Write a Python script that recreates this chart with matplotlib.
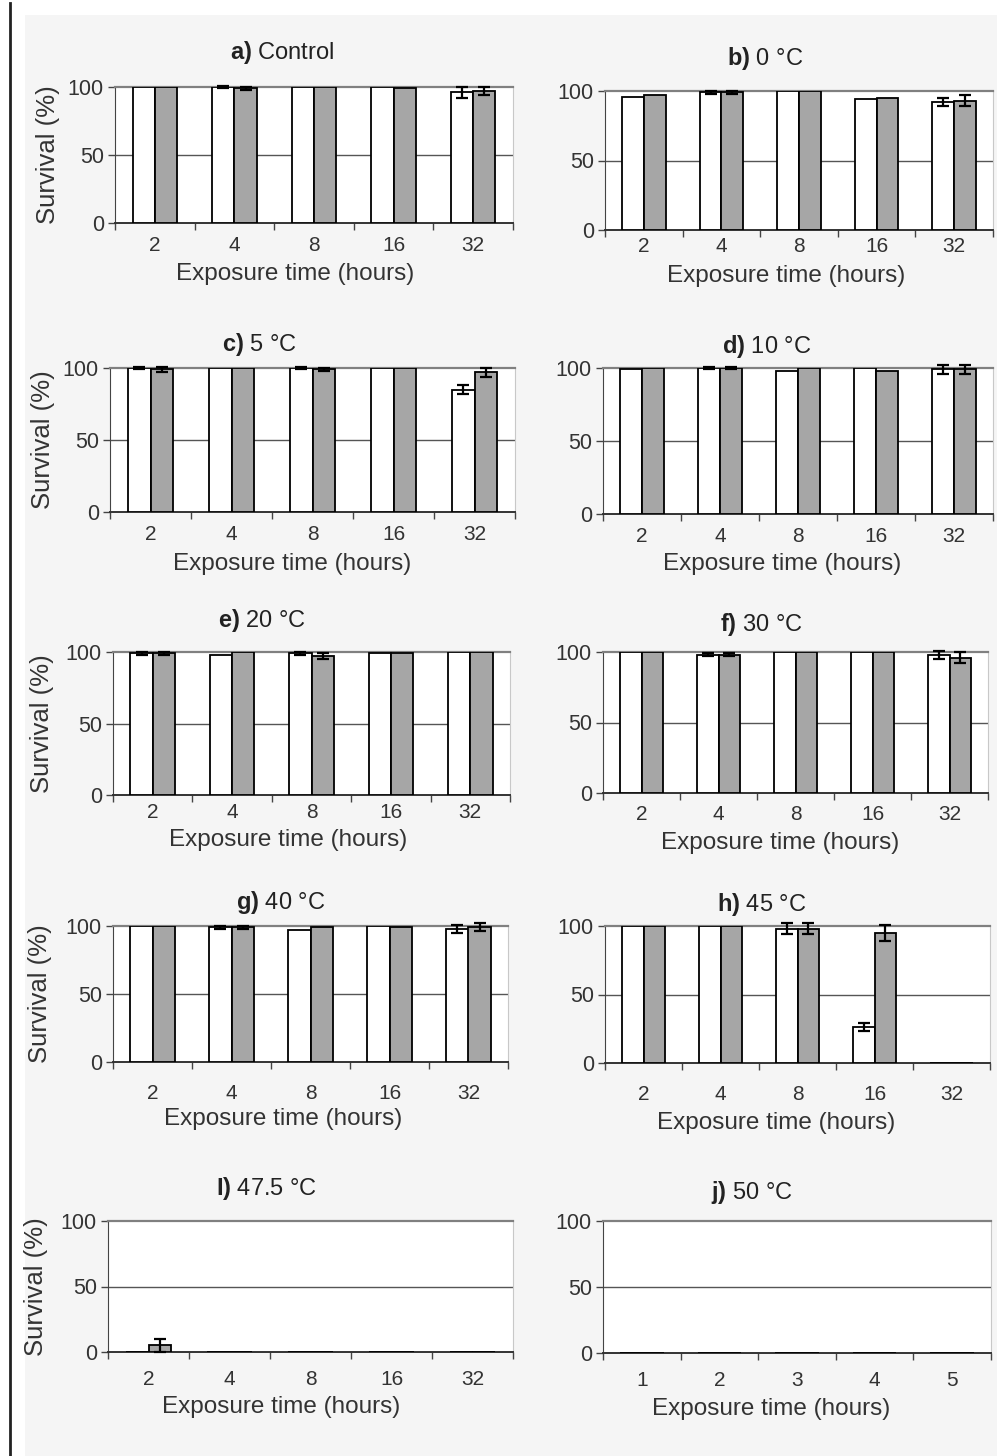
import numpy as np
import matplotlib
matplotlib.use("Agg")
import matplotlib.pyplot as plt
from matplotlib.patches import Rectangle
from matplotlib.lines import Line2D

plt.rcParams['font.family'] = ['Liberation Sans', 'DejaVu Sans']
plt.rcParams['mathtext.fontset'] = 'custom'
plt.rcParams['mathtext.rm'] = 'Liberation Sans'
plt.rcParams['mathtext.bf'] = 'Liberation Sans:bold'

# data (survival %, white and grey series)
hours = ['2', '4', '8', '16', '32']
hours_j = ['1', '2', '3', '4', '5']
titles = [r'$\mathbf{a)}$ Control', r'$\mathbf{b)}$ 0 °C', r'$\mathbf{c)}$ 5 °C',
          r'$\mathbf{d)}$ 10 °C', r'$\mathbf{e)}$ 20 °C', r'$\mathbf{f)}$ 30 °C',
          r'$\mathbf{g)}$ 40 °C', r'$\mathbf{h)}$ 45 °C', r'$\mathbf{I)}$ 47.5 °C',
          r'$\mathbf{j)}$ 50 °C']

white = [[100, 100, 100, 100, 96],
         [96, 99, 100, 94, 92],
         [100, 100, 100, 100, 85],
         [99, 100, 98, 100, 99],
         [99, 98, 99, 99, 100],
         [100, 98, 100, 100, 98],
         [100, 99, 97, 100, 98],
         [100, 100, 98, 26, 0],
         [0, 0, 0, 0, 0],
         [0, 0, 0, 0, 0]]
white_err = [[0, 1, 0, 0, 4],
             [0, 1, 0, 0, 3],
             [1, 0, 1, 0, 3],
             [0, 1, 0, 0, 3],
             [1, 0, 1, 0, 0],
             [0, 1, 0, 0, 3],
             [0, 1, 0, 0, 3],
             [0, 0, 4, 3, 0],
             [0, 0, 0, 0, 0],
             [0, 0, 0, 0, 0]]
grey = [[100, 99, 100, 99, 97],
        [97, 99, 100, 95, 93],
        [99, 100, 99, 100, 97],
        [100, 100, 100, 98, 99],
        [99, 100, 97, 99, 100],
        [100, 98, 100, 100, 96],
        [100, 99, 99, 99, 99],
        [100, 100, 98, 95, 0],
        [5, 0, 0, 0, 0],
        [0, 0, 0, 0, 0]]
grey_err = [[0, 1, 0, 0, 3],
            [0, 1, 0, 0, 4],
            [2, 0, 1, 0, 3],
            [0, 1, 0, 0, 3],
            [1, 0, 2, 0, 0],
            [0, 1, 0, 0, 4],
            [0, 1, 0, 0, 3],
            [0, 0, 4, 6, 0],
            [5, 0, 0, 0, 0],
            [0, 0, 0, 0, 0]]

# layout in pixels: plot box (left, top, right, bottom), title / xlabel centres
W, H = 997, 1456
boxes = [(115, 87, 513, 223), (605, 91, 993, 230),
         (110, 368, 515, 512), (603, 368, 993, 514),
         (113, 652, 510, 795), (603, 652, 988, 793),
         (113, 926, 508, 1062), (605, 926, 990, 1063),
         (108, 1221, 513, 1352), (603, 1221, 991, 1353)]
title_pos = [(282, 53), (765, 58), (259, 344), (767, 347), (262, 621),
             (761, 625), (281, 902), (762, 905), (267, 1188), (752, 1192)]
xlab_pos = [(295, 274), (786, 276), (292, 564), (782, 564), (288, 840),
            (780, 843), (283, 1119), (776, 1123), (281, 1407), (771, 1409)]
xtick_pad = [9.4, 5.0, 9.4, 9.4, 5.5, 8.6, 15.5, 15.5, 13.0, 13.0]
ylab_x = [48, None, 43, None, 42, None, 40, None, 36, None]

fig = plt.figure(figsize=(W / 100, H / 100), dpi=100)
fig.patch.set_facecolor('white')
fig.patches.append(Rectangle((25 / W, 0), 1, 1 - 15 / H, transform=fig.transFigure,
                             facecolor='#f5f5f5', edgecolor='none', zorder=-10))
fig.lines.append(Line2D([10 / W, 10 / W], [0, 1 - 3 / H], transform=fig.transFigure,
                        color='#222222', lw=2, zorder=-5))

bw = 0.28
x = np.arange(5)
for i in range(10):
    l, t, r, b = boxes[i]
    ax = fig.add_axes([l / W, 1 - b / H, (r - l) / W, (b - t) / H])
    ax.set_facecolor('white')
    ax.bar(x - bw / 2, white[i], bw, color='white', edgecolor='black', lw=1.3, zorder=3)
    ax.bar(x + bw / 2, grey[i], bw, color='#a6a6a6', edgecolor='black', lw=1.3, zorder=3)
    for xs, vals, errs in [(x - bw / 2, white[i], white_err[i]), (x + bw / 2, grey[i], grey_err[i])]:
        e = np.array(errs)
        m = e > 0
        if m.any():
            ax.errorbar(xs[m], np.array(vals)[m], yerr=e[m], fmt='none', ecolor='black',
                        elinewidth=1.6, capsize=4, capthick=1.6, zorder=4, clip_on=False)
    ax.set_xlim(-0.5, 4.5)
    ax.set_ylim(0, 100)
    ax.axhline(50, color='#555555', lw=1, zorder=1)
    ax.set_yticks([0, 50, 100])
    ax.set_xticks(np.arange(-0.5, 5, 1))
    ax.set_xticklabels([])
    ax.set_xticks(x, minor=True)
    ax.set_xticklabels(hours_j if i == 9 else hours, minor=True)
    ax.tick_params(axis='x', which='major', length=5, width=1, color='#444444')
    ax.tick_params(axis='x', which='minor', length=0, pad=xtick_pad[i], labelsize=15,
                   labelcolor='#333333')
    ax.tick_params(axis='y', length=5, width=1, color='#444444', labelsize=15.5,
                   labelcolor='#333333', pad=3)
    ax.spines['left'].set_color('#444444')
    ax.spines['bottom'].set_color('#333333')
    ax.spines['bottom'].set_linewidth(1.4)
    ax.spines['top'].set_color('#808080')
    ax.spines['top'].set_linewidth(1.6)
    ax.spines['right'].set_color('#c8c8c8')

    tx, ty = title_pos[i]
    fig.text(tx / W, 1 - ty / H, titles[i], ha='center', va='center', fontsize=17, color='#222222')
    lx, ly = xlab_pos[i]
    fig.text(lx / W, 1 - ly / H, 'Exposure time (hours)', ha='center', va='center',
             fontsize=17.5, color='#333333')
    if ylab_x[i] is not None:
        fig.text(ylab_x[i] / W, 1 - (t + b) / 2 / H, 'Survival (%)', ha='center', va='center',
                 rotation=90, fontsize=18.5, color='#333333')

fig.savefig('out.png', dpi=100, facecolor=fig.get_facecolor())
